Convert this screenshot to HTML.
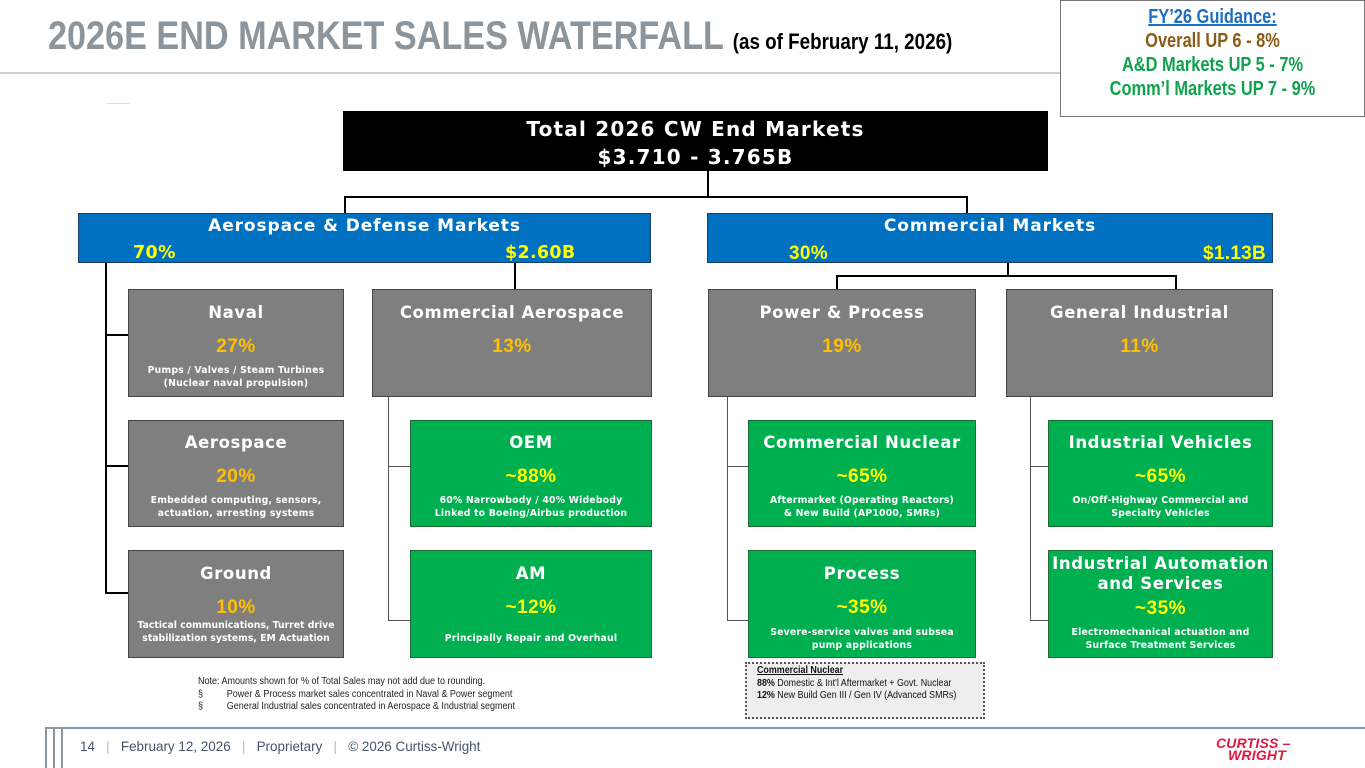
<!DOCTYPE html>
<html><head><meta charset="utf-8">
<style>
*{margin:0;padding:0;box-sizing:border-box}
body{width:1365px;height:768px;background:#fff;position:relative;overflow:hidden;font-family:"Liberation Sans",Arial,sans-serif}
.a{position:absolute}
.ln{position:absolute;background:#000}
.lg{position:absolute;background:#555}
.box{position:absolute;color:#fff;font-weight:bold;text-align:center;border:1px solid #444}
.gray{background:#7f7f7f}
.green{background:#00b050;border-color:#1b6b35}
.box .t{position:absolute;left:-10px;right:-10px;font-family:"DejaVu Sans",sans-serif;font-size:16.5px;line-height:20px;letter-spacing:0.6px;white-space:nowrap}
.box .p{position:absolute;left:0;right:0;font-size:19px;line-height:22px;letter-spacing:0.5px}
.gray .p{color:#ffc000}
.green .p{color:#ffff00}
.box .d{position:absolute;left:-10px;right:-10px;font-family:"DejaVu Sans",sans-serif;font-size:9.3px;line-height:13px;letter-spacing:0.2px;white-space:nowrap}
.blue{position:absolute;background:#0070c0;color:#fff;font-weight:bold;border:1px solid #1a3f6e}
.blue .t{position:absolute;left:0;right:0;text-align:center;font-family:"DejaVu Sans",sans-serif;font-size:17px;top:2px;letter-spacing:0.9px}
.blue .y{position:absolute;top:29px;font-size:19px;color:#ffff00;letter-spacing:0.3px}
.sx{display:inline-block;transform-origin:left top}
</style></head><body>
<div class="a" style="left:48px;top:14px;font-weight:bold;font-size:40px;color:#8c959b;white-space:nowrap;line-height:44px;transform:scaleX(0.855);transform-origin:left top">2026E END MARKET SALES WATERFALL <span style="font-size:22px;color:#000">(as of February 11, 2026)</span></div>
<div class="a" style="left:0;top:72px;width:1062px;height:2px;background:#c9d0d4"></div>
<div class="a" style="left:107px;top:103px;width:22px;height:1px;background:#ddd"></div>

<div class="a" style="left:1060px;top:0;width:305px;height:117px;border:1px solid #777;background:#fff;text-align:center;font-weight:bold;font-size:20px;line-height:24px;padding-top:4px">
<div style="color:#1f6fc0;text-decoration:underline;transform:scaleX(0.82)">FY’26 Guidance:</div>
<div style="color:#8b5a17;transform:scaleX(0.82)">Overall UP 6 - 8%</div>
<div style="color:#0fa24e;transform:scaleX(0.82)">A&amp;D Markets UP 5 - 7%</div>
<div style="color:#0fa24e;transform:scaleX(0.82)">Comm’l Markets UP 7 - 9%</div>
</div>

<div class="a" style="left:343px;top:111px;width:705px;height:60px;background:#000;color:#fff;font-weight:bold;text-align:center;font-family:'DejaVu Sans',sans-serif;font-size:20px;letter-spacing:1.2px;line-height:28px;padding-top:4px">
<div>Total 2026 CW End Markets</div>
<div>$3.710 - 3.765B</div>
</div>

<div class="ln" style="left:707px;top:171px;width:2px;height:26px"></div>
<div class="ln" style="left:344px;top:196px;width:624px;height:2px"></div>
<div class="ln" style="left:344px;top:196px;width:2px;height:17px"></div>
<div class="ln" style="left:966px;top:196px;width:2px;height:17px"></div>

<div class="blue" style="left:78px;top:213px;width:573px;height:50px">
<div class="t">Aerospace &amp; Defense Markets</div>
<div class="y" style="left:54px;font-family:'DejaVu Sans',sans-serif;font-size:17.5px">70%</div>
<div class="y" style="left:426px;font-family:'DejaVu Sans',sans-serif;font-size:17.5px">$2.60B</div>
</div>
<div class="blue" style="left:707px;top:213px;width:566px;height:50px">
<div class="t">Commercial Markets</div>
<div class="y" style="left:81px">30%</div>
<div class="y" style="left:495px">$1.13B</div>
</div>

<div class="ln" style="left:105px;top:263px;width:2px;height:331px"></div>
<div class="ln" style="left:105px;top:334px;width:23px;height:2px"></div>
<div class="ln" style="left:105px;top:465px;width:23px;height:2px"></div>
<div class="ln" style="left:105px;top:592px;width:23px;height:2px"></div>
<div class="ln" style="left:514px;top:263px;width:2px;height:26px"></div>
<div class="lg" style="left:388px;top:397px;width:1px;height:224px"></div>
<div class="lg" style="left:388px;top:466px;width:22px;height:1px"></div>
<div class="lg" style="left:388px;top:620px;width:22px;height:1px"></div>
<div class="ln" style="left:1007px;top:263px;width:2px;height:14px"></div>
<div class="ln" style="left:836px;top:275px;width:341px;height:2px"></div>
<div class="ln" style="left:836px;top:275px;width:2px;height:14px"></div>
<div class="ln" style="left:1175px;top:275px;width:2px;height:14px"></div>
<div class="lg" style="left:727px;top:397px;width:1px;height:224px"></div>
<div class="lg" style="left:727px;top:466px;width:21px;height:1px"></div>
<div class="lg" style="left:727px;top:620px;width:21px;height:1px"></div>
<div class="lg" style="left:1030px;top:397px;width:1px;height:224px"></div>
<div class="lg" style="left:1030px;top:466px;width:18px;height:1px"></div>
<div class="lg" style="left:1030px;top:620px;width:18px;height:1px"></div>

<div class="box gray" style="left:128px;top:289px;width:216px;height:108px">
<div class="t" style="top:13px">Naval</div>
<div class="p" style="top:46px">27%</div>
<div class="d" style="top:74px">Pumps / Valves / Steam Turbines<br>(Nuclear naval propulsion)</div>
</div>
<div class="box gray" style="left:372px;top:289px;width:280px;height:108px">
<div class="t" style="top:13px">Commercial Aerospace</div>
<div class="p" style="top:46px">13%</div>
</div>
<div class="box gray" style="left:708px;top:289px;width:268px;height:108px">
<div class="t" style="top:13px">Power &amp; Process</div>
<div class="p" style="top:46px">19%</div>
</div>
<div class="box gray" style="left:1006px;top:289px;width:267px;height:108px">
<div class="t" style="top:13px">General Industrial</div>
<div class="p" style="top:46px">11%</div>
</div>

<div class="box gray" style="left:128px;top:420px;width:216px;height:107px">
<div class="t" style="top:12px">Aerospace</div>
<div class="p" style="top:45px">20%</div>
<div class="d" style="top:73px">Embedded computing, sensors,<br>actuation, arresting systems</div>
</div>
<div class="box green" style="left:410px;top:420px;width:242px;height:107px">
<div class="t" style="top:12px">OEM</div>
<div class="p" style="top:45px">~88%</div>
<div class="d" style="top:73px">60% Narrowbody / 40% Widebody<br>Linked to Boeing/Airbus production</div>
</div>
<div class="box green" style="left:748px;top:420px;width:228px;height:107px">
<div class="t" style="top:12px">Commercial Nuclear</div>
<div class="p" style="top:45px">~65%</div>
<div class="d" style="top:73px">Aftermarket (Operating Reactors)<br>&amp; New Build (AP1000, SMRs)</div>
</div>
<div class="box green" style="left:1048px;top:420px;width:225px;height:107px">
<div class="t" style="top:12px">Industrial Vehicles</div>
<div class="p" style="top:45px">~65%</div>
<div class="d" style="top:73px">On/Off-Highway Commercial and<br>Specialty Vehicles</div>
</div>

<div class="box gray" style="left:128px;top:550px;width:216px;height:108px">
<div class="t" style="top:13px">Ground</div>
<div class="p" style="top:46px">10%</div>
<div class="d" style="top:68px;letter-spacing:0">Tactical communications, Turret drive<br>stabilization systems, EM Actuation</div>
</div>
<div class="box green" style="left:410px;top:550px;width:242px;height:108px">
<div class="t" style="top:13px">AM</div>
<div class="p" style="top:46px">~12%</div>
<div class="d" style="top:81px">Principally Repair and Overhaul</div>
</div>
<div class="box green" style="left:748px;top:550px;width:228px;height:108px">
<div class="t" style="top:13px">Process</div>
<div class="p" style="top:46px">~35%</div>
<div class="d" style="top:75px">Severe-service valves and subsea<br>pump applications</div>
</div>
<div class="box green" style="left:1048px;top:550px;width:225px;height:108px">
<div class="t" style="top:3px">Industrial Automation</div>
<div class="t" style="top:23px">and Services</div>
<div class="p" style="top:47px">~35%</div>
<div class="d" style="top:75px">Electromechanical actuation and<br>Surface Treatment Services</div>
</div>

<div class="a" style="left:198px;top:676px;font-size:10px;line-height:12.5px;color:#222;white-space:nowrap;transform:scaleX(0.9);transform-origin:left top">
<div>Note: Amounts shown for % of Total Sales may not add due to rounding.</div>
<div><span style="display:inline-block;width:32px">§</span>Power &amp; Process market sales concentrated in Naval &amp; Power segment</div>
<div><span style="display:inline-block;width:32px">§</span>General Industrial sales concentrated in Aerospace &amp; Industrial segment</div>
</div>
<div class="a" style="left:745px;top:662px;width:240px;height:57px;border:2px dotted #555;background:#eee;color:#111"></div>
<div class="a" style="left:757px;top:665px;font-size:10px;line-height:12.5px;color:#111;white-space:nowrap;transform:scaleX(0.89);transform-origin:left top">
<div style="font-weight:bold;text-decoration:underline">Commercial Nuclear</div>
<div><b>88%</b> Domestic &amp; Int'l Aftermarket + Govt. Nuclear</div>
<div><b>12%</b> New Build Gen III / Gen IV (Advanced SMRs)</div>
</div>

<div class="a" style="left:45px;top:727px;width:1320px;height:2px;background:#8a96a0"></div>
<div class="a" style="left:45px;top:727px;width:2px;height:41px;background:#8a96a0"></div>
<div class="a" style="left:53px;top:727px;width:2px;height:41px;background:#8a96a0"></div>
<div class="a" style="left:61px;top:727px;width:2px;height:41px;background:#8a96a0"></div>
<div class="a" style="left:80px;top:738px;font-size:14px;color:#44546a;white-space:nowrap;transform:scaleX(0.96);transform-origin:left top">14 &nbsp;&nbsp;<span style="color:#bbb">|</span>&nbsp;&nbsp; February 12, 2026 &nbsp;&nbsp;<span style="color:#bbb">|</span>&nbsp;&nbsp; Proprietary &nbsp;&nbsp;<span style="color:#bbb">|</span>&nbsp;&nbsp; © 2026 Curtiss-Wright</div>
<div class="a" style="left:1216px;top:737px;color:#e4173e;font-weight:bold;font-style:italic;font-size:14px;line-height:12px;letter-spacing:0.2px">CURTISS –<br><span style="padding-left:12px">WRIGHT</span></div>
</body></html>
